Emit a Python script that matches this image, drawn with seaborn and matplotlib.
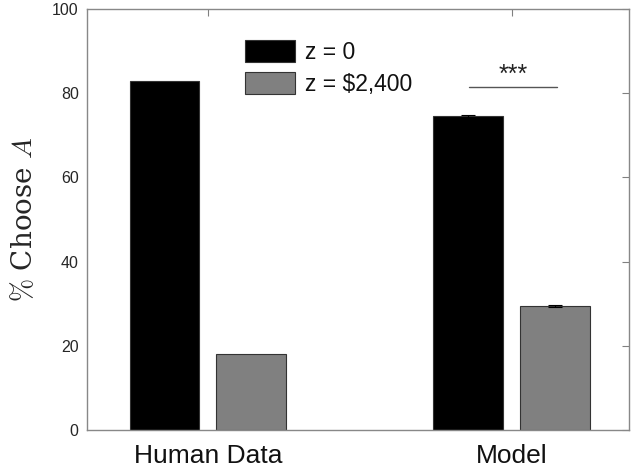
import pandas as pd
import matplotlib.pyplot as plt
import seaborn as sns

# values
groups = ['Human Data', 'Model']
conditions = ['z = 0', 'z = $2,400']
pct_z0 = [82.9, 74.5]
pct_z2400 = [18.0, 29.5]
err_z0 = [0.0, 0.35]
err_z2400 = [0.0, 0.3]
yticks = [0, 20, 40, 60, 80, 100]

df = pd.DataFrame({
    'group': groups * 2,
    'cond': [conditions[0]] * 2 + [conditions[1]] * 2,
    'pct': pct_z0 + pct_z2400,
})

sns.set_style('white')
plt.rcParams['font.family'] = ['Liberation Sans', 'DejaVu Sans']
plt.rcParams['mathtext.fontset'] = 'cm'
fig = plt.figure(figsize=(6.32, 4.71), dpi=100)
ax = fig.add_axes([0.1377, 0.087, 0.8573, 0.894])

sns.barplot(data=df, x='group', y='pct', hue='cond', order=groups,
            hue_order=conditions, palette=['black', '#808080'],
            width=0.572, gap=0.196, errorbar=None, edgecolor='#333333',
            linewidth=0.8, ax=ax)

# error bars for the model bars
off = 0.143
for i, g in enumerate(groups):
    if err_z0[i] > 0:
        ax.errorbar(i - off, pct_z0[i], yerr=err_z0[i], fmt='none',
                    ecolor='black', elinewidth=0.8, capsize=5, capthick=0.8)
    if err_z2400[i] > 0:
        ax.errorbar(i + off, pct_z2400[i], yerr=err_z2400[i], fmt='none',
                    ecolor='black', elinewidth=0.8, capsize=5, capthick=0.8)

# significance marker
ax.plot([1 - 0.141, 1 + 0.148], [81.5, 81.5], color='#555555', lw=1)
ax.text(1.003, 81.6, '***', ha='center', va='bottom', fontsize=18,
        color='#222222')

ax.set_xlim(-0.398, 1.385)
ax.set_ylim(0, 100)
ax.set_yticks(yticks)
ax.set_xlabel('')
ax.set_ylabel(r'$\%$ Choose $A$', fontsize=20, family='serif', labelpad=10)
ax.tick_params(axis='y', labelsize=11.5, labelcolor='#262626', direction='in',
               length=5, color='#808080', right=True, pad=6)
ax.tick_params(axis='x', labelsize=19, labelcolor='#111111', direction='in',
               length=5, color='#808080', top=True, pad=10)
for s in ax.spines.values():
    s.set_visible(True)
    s.set_color('#888888')
    s.set_linewidth(1.0)

leg = ax.legend(loc='upper left', bbox_to_anchor=(245 / 632, 1 - 40 / 471),
                bbox_transform=fig.transFigure, frameon=False, fontsize=16.5,
                handlelength=2.18, handleheight=1.1, handletextpad=0.42,
                labelspacing=0.35, borderpad=0, borderaxespad=0)
for t in leg.get_texts():
    t.set_color('#111111')

fig.savefig('out.png', dpi=100)
